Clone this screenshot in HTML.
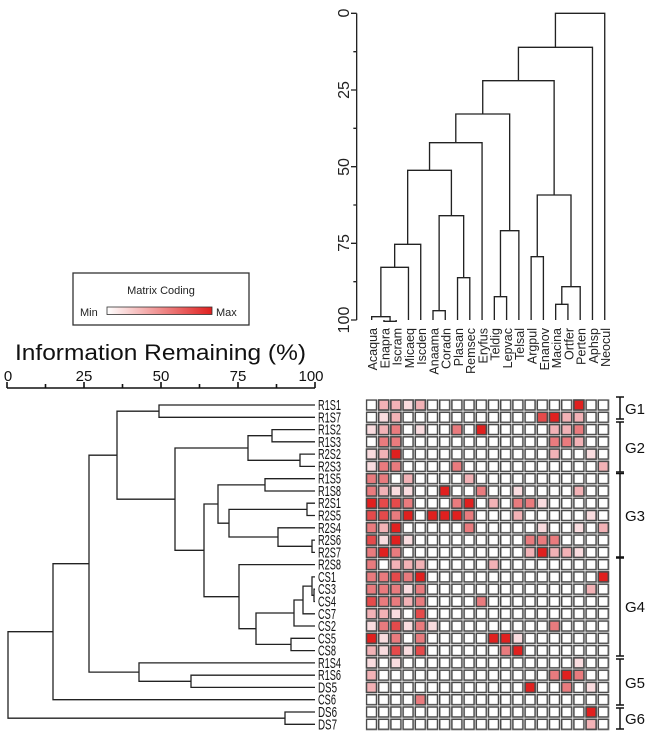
<!DOCTYPE html>
<html><head><meta charset="utf-8"><style>
html,body{margin:0;padding:0;background:#fff;}
svg{display:block;font-family:"Liberation Sans",sans-serif;}
.c{width:10px;height:10px;stroke:#4a4a4a;stroke-width:1.5px;}
.l1{fill:#f9dcdf}.l2{fill:#f2b2b6}.l3{fill:#e97b7e}.l4{fill:#e54a4b}.l5{fill:#e0201f}
.d{fill:none;stroke:#222;stroke-width:1.3;}
</style></head><body>
<svg width="653" height="736" viewBox="0 0 653 736" xmlns="http://www.w3.org/2000/svg">
<defs>
<linearGradient id="gr" x1="0" x2="1" y1="0" y2="0"><stop offset="0" stop-color="#fff"/><stop offset="1" stop-color="#e0201f"/></linearGradient>
<pattern id="cell" patternUnits="userSpaceOnUse" x="365.75" y="399.25" width="12.2" height="12.28">
<rect x="0.75" y="0.75" width="10" height="10" fill="#fff" stroke="#4a4a4a" stroke-width="1.5"/>
</pattern>
</defs>

<g transform="translate(320,0) scale(0.33333)">
<g fill="none" stroke="#222" stroke-width="4">
<path d="M110 40V960 M110 40H93 M110 270H93 M110 500H93 M110 730H93 M110 960H93 M110 155H100 M110 385H100 M110 615H100 M110 845H100"/>
<path d="M191.8 960V964H228.6V960"/>
<path d="M155 960V950H210.2V964"/>
<path d="M182.6 950V802H265.4V960"/>
<path d="M224 802V733H302.2V960"/>
<path d="M339 960V932H375.8V960"/>
<path d="M412.6 960V833H449.4V960"/>
<path d="M357.4 932V647H431V833"/>
<path d="M263 733V511H394.2V647"/>
<path d="M328.6 511V428H486.2V960"/>
<path d="M523 960V890H559.8V960"/>
<path d="M541.4 890V692H596.6V960"/>
<path d="M407.4 428V342H569V692"/>
<path d="M633.4 960V770H670.2V960"/>
<path d="M707 960V913H743.8V960"/>
<path d="M725.4 913V860H780.6V960"/>
<path d="M651.8 770V585H753V860"/>
<path d="M488.2 342V242H702.4V585"/>
<path d="M595.3 242V142H817.4V960"/>
<path d="M706.3 142V40H854.2V960"/>
</g>
</g>
<g font-size="16" fill="#222" text-anchor="middle">
<text transform="translate(349,13) rotate(-90)">0</text>
<text transform="translate(349,90) rotate(-90)">25</text>
<text transform="translate(349,167) rotate(-90)">50</text>
<text transform="translate(349,243) rotate(-90)">75</text>
<text transform="translate(349,320) rotate(-90)">100</text>
</g>
<g font-size="12.5" fill="#222" text-anchor="end">
<text transform="translate(377,328) rotate(-90)">Acaqua</text>
<text transform="translate(389.3,328) rotate(-90)">Enapra</text>
<text transform="translate(401.5,328) rotate(-90)">Iscram</text>
<text transform="translate(413.8,328) rotate(-90)">Micaeq</text>
<text transform="translate(426.1,328) rotate(-90)">Iscden</text>
<text transform="translate(438.4,328) rotate(-90)">Anaama</text>
<text transform="translate(450.6,328) rotate(-90)">Coradn</text>
<text transform="translate(462.9,328) rotate(-90)">Plasan</text>
<text transform="translate(475.2,328) rotate(-90)">Remsec</text>
<text transform="translate(487.4,328) rotate(-90)">Eryfus</text>
<text transform="translate(499.7,328) rotate(-90)">Teldig</text>
<text transform="translate(512,328) rotate(-90)">Lepvac</text>
<text transform="translate(524.2,328) rotate(-90)">Telsal</text>
<text transform="translate(536.5,328) rotate(-90)">Argpul</text>
<text transform="translate(548.8,328) rotate(-90)">Enanov</text>
<text transform="translate(561,328) rotate(-90)">Macina</text>
<text transform="translate(573.3,328) rotate(-90)">Ortfer</text>
<text transform="translate(585.6,328) rotate(-90)">Perten</text>
<text transform="translate(597.9,328) rotate(-90)">Aphsp</text>
<text transform="translate(610.1,328) rotate(-90)">Neocul</text>
</g>

<rect x="73" y="273" width="176" height="52" fill="#fff" stroke="#333" stroke-width="1.3"/>
<text x="161" y="294" font-size="11" text-anchor="middle" fill="#222">Matrix Coding</text>
<text x="80" y="316" font-size="11" fill="#222">Min</text>
<rect x="107" y="307" width="105" height="7.5" fill="url(#gr)" stroke="#333" stroke-width="0.8"/>
<text x="216" y="316" font-size="11" fill="#222">Max</text>

<text x="15" y="360" font-size="22" fill="#111" textLength="291" lengthAdjust="spacingAndGlyphs">Information Remaining (%)</text>
<g font-size="15" fill="#111" text-anchor="middle">
<text x="8" y="381">0</text><text x="84" y="381">25</text><text x="161" y="381">50</text><text x="238" y="381">75</text><text x="311" y="381">100</text>
</g>
<path d="M7 388H315 M7 382V388 M45.5 384V388 M84 382V388 M122.5 384V388 M161 382V388 M199.5 384V388 M238 382V388 M276.5 384V388 M315 382V388" stroke="#111" stroke-width="1.6" fill="none"/>

<g class="d">
<path d="M315 405H159V417.3H315"/>
<path d="M315 429.6H272V441.8H315"/>
<path d="M315 454.1H300V466.4H315"/>
<path d="M272 435.7H248V460.3H300"/>
<path d="M315 478.7H265V491H315"/>
<path d="M315 503.2H307V515.5H315"/>
<path d="M315 540.1H312V552.4H315"/>
<path d="M315 527.8H278V546.3H312"/>
<path d="M307 509.4H229V537H278"/>
<path d="M265 484.9H218V523.2H229"/>
<path d="M315 589.2H314V601.5H315"/>
<path d="M315 576.9H312V595.3H314"/>
<path d="M312 586.1H303V613.8H315"/>
<path d="M303 600H294V626H315"/>
<path d="M315 638.3H291V650.6H315"/>
<path d="M294 613H256V644.4H291"/>
<path d="M315 564.6H239V628.7H256"/>
<path d="M218 504H204V596.7H239"/>
<path d="M248 448H175V550.3H204"/>
<path d="M159 411.2H117V499.2H175"/>
<path d="M315 675.2H191V687.4H315"/>
<path d="M315 662.9H139V681.3H191"/>
<path d="M117 455.2H89V672.1H139"/>
<path d="M89 563.7H53V699.7H315"/>
<path d="M315 712H285V724.3H315"/>
<path d="M53 631.7H8V718.2H285"/>
</g>
<g font-size="15" fill="#111">
<text x="318" y="410" textLength="23" lengthAdjust="spacingAndGlyphs">R1S1</text>
<text x="318" y="422.3" textLength="23" lengthAdjust="spacingAndGlyphs">R1S7</text>
<text x="318" y="434.6" textLength="23" lengthAdjust="spacingAndGlyphs">R1S2</text>
<text x="318" y="446.8" textLength="23" lengthAdjust="spacingAndGlyphs">R1S3</text>
<text x="318" y="459.1" textLength="23" lengthAdjust="spacingAndGlyphs">R2S2</text>
<text x="318" y="471.4" textLength="23" lengthAdjust="spacingAndGlyphs">R2S3</text>
<text x="318" y="483.7" textLength="23" lengthAdjust="spacingAndGlyphs">R1S5</text>
<text x="318" y="496" textLength="23" lengthAdjust="spacingAndGlyphs">R1S8</text>
<text x="318" y="508.2" textLength="23" lengthAdjust="spacingAndGlyphs">R2S1</text>
<text x="318" y="520.5" textLength="23" lengthAdjust="spacingAndGlyphs">R2S5</text>
<text x="318" y="532.8" textLength="23" lengthAdjust="spacingAndGlyphs">R2S4</text>
<text x="318" y="545.1" textLength="23" lengthAdjust="spacingAndGlyphs">R2S6</text>
<text x="318" y="557.4" textLength="23" lengthAdjust="spacingAndGlyphs">R2S7</text>
<text x="318" y="569.6" textLength="23" lengthAdjust="spacingAndGlyphs">R2S8</text>
<text x="318" y="581.9" textLength="18" lengthAdjust="spacingAndGlyphs">CS1</text>
<text x="318" y="594.2" textLength="18" lengthAdjust="spacingAndGlyphs">CS3</text>
<text x="318" y="606.5" textLength="18" lengthAdjust="spacingAndGlyphs">CS4</text>
<text x="318" y="618.8" textLength="18" lengthAdjust="spacingAndGlyphs">CS7</text>
<text x="318" y="631" textLength="18" lengthAdjust="spacingAndGlyphs">CS2</text>
<text x="318" y="643.3" textLength="18" lengthAdjust="spacingAndGlyphs">CS5</text>
<text x="318" y="655.6" textLength="18" lengthAdjust="spacingAndGlyphs">CS8</text>
<text x="318" y="667.9" textLength="23" lengthAdjust="spacingAndGlyphs">R1S4</text>
<text x="318" y="680.2" textLength="23" lengthAdjust="spacingAndGlyphs">R1S6</text>
<text x="318" y="692.4" textLength="19" lengthAdjust="spacingAndGlyphs">DS5</text>
<text x="318" y="704.7" textLength="18" lengthAdjust="spacingAndGlyphs">CS6</text>
<text x="318" y="717" textLength="19" lengthAdjust="spacingAndGlyphs">DS6</text>
<text x="318" y="729.3" textLength="19" lengthAdjust="spacingAndGlyphs">DS7</text>
</g>

<rect x="365.75" y="399.25" width="244" height="331.56" fill="url(#cell)"/>
<g>
<rect class="c l2" x="378.7" y="400"/><rect class="c l2" x="390.9" y="400"/><rect class="c l1" x="403.1" y="400"/><rect class="c l2" x="415.3" y="400"/><rect class="c l5" x="573.9" y="400"/>
<rect class="c l1" x="378.7" y="412.3"/><rect class="c l2" x="390.9" y="412.3"/><rect class="c l4" x="537.3" y="412.3"/><rect class="c l5" x="549.5" y="412.3"/><rect class="c l2" x="561.7" y="412.3"/><rect class="c l2" x="573.9" y="412.3"/>
<rect class="c l1" x="366.5" y="424.6"/><rect class="c l2" x="378.7" y="424.6"/><rect class="c l3" x="390.9" y="424.6"/><rect class="c l1" x="415.3" y="424.6"/><rect class="c l3" x="451.9" y="424.6"/><rect class="c l5" x="476.3" y="424.6"/><rect class="c l2" x="549.5" y="424.6"/><rect class="c l2" x="561.7" y="424.6"/><rect class="c l3" x="573.9" y="424.6"/>
<rect class="c l3" x="378.7" y="436.8"/><rect class="c l3" x="390.9" y="436.8"/><rect class="c l3" x="549.5" y="436.8"/><rect class="c l3" x="561.7" y="436.8"/><rect class="c l2" x="573.9" y="436.8"/>
<rect class="c l1" x="366.5" y="449.1"/><rect class="c l2" x="378.7" y="449.1"/><rect class="c l5" x="390.9" y="449.1"/><rect class="c l2" x="549.5" y="449.1"/><rect class="c l1" x="586.1" y="449.1"/>
<rect class="c l1" x="366.5" y="461.4"/><rect class="c l3" x="378.7" y="461.4"/><rect class="c l3" x="390.9" y="461.4"/><rect class="c l3" x="451.9" y="461.4"/><rect class="c l2" x="598.3" y="461.4"/>
<rect class="c l3" x="366.5" y="473.7"/><rect class="c l3" x="378.7" y="473.7"/><rect class="c l2" x="403.1" y="473.7"/><rect class="c l2" x="464.1" y="473.7"/>
<rect class="c l3" x="366.5" y="486"/><rect class="c l2" x="378.7" y="486"/><rect class="c l1" x="390.9" y="486"/><rect class="c l1" x="403.1" y="486"/><rect class="c l5" x="439.7" y="486"/><rect class="c l3" x="476.3" y="486"/><rect class="c l1" x="512.9" y="486"/><rect class="c l2" x="573.9" y="486"/>
<rect class="c l5" x="366.5" y="498.2"/><rect class="c l4" x="378.7" y="498.2"/><rect class="c l4" x="390.9" y="498.2"/><rect class="c l3" x="403.1" y="498.2"/><rect class="c l3" x="451.9" y="498.2"/><rect class="c l5" x="464.1" y="498.2"/><rect class="c l2" x="488.5" y="498.2"/><rect class="c l3" x="512.9" y="498.2"/><rect class="c l3" x="525.1" y="498.2"/><rect class="c l1" x="537.3" y="498.2"/>
<rect class="c l4" x="366.5" y="510.5"/><rect class="c l4" x="378.7" y="510.5"/><rect class="c l3" x="390.9" y="510.5"/><rect class="c l5" x="403.1" y="510.5"/><rect class="c l5" x="427.5" y="510.5"/><rect class="c l5" x="439.7" y="510.5"/><rect class="c l5" x="451.9" y="510.5"/><rect class="c l3" x="464.1" y="510.5"/><rect class="c l2" x="512.9" y="510.5"/><rect class="c l1" x="586.1" y="510.5"/>
<rect class="c l3" x="366.5" y="522.8"/><rect class="c l2" x="378.7" y="522.8"/><rect class="c l5" x="390.9" y="522.8"/><rect class="c l3" x="464.1" y="522.8"/><rect class="c l1" x="537.3" y="522.8"/><rect class="c l1" x="573.9" y="522.8"/><rect class="c l2" x="598.3" y="522.8"/>
<rect class="c l4" x="366.5" y="535.1"/><rect class="c l1" x="378.7" y="535.1"/><rect class="c l5" x="390.9" y="535.1"/><rect class="c l1" x="403.1" y="535.1"/><rect class="c l3" x="525.1" y="535.1"/><rect class="c l3" x="537.3" y="535.1"/><rect class="c l3" x="549.5" y="535.1"/>
<rect class="c l3" x="366.5" y="547.4"/><rect class="c l5" x="378.7" y="547.4"/><rect class="c l3" x="390.9" y="547.4"/><rect class="c l2" x="525.1" y="547.4"/><rect class="c l5" x="537.3" y="547.4"/><rect class="c l2" x="549.5" y="547.4"/><rect class="c l2" x="561.7" y="547.4"/><rect class="c l1" x="573.9" y="547.4"/>
<rect class="c l3" x="366.5" y="559.6"/><rect class="c l2" x="390.9" y="559.6"/><rect class="c l2" x="403.1" y="559.6"/><rect class="c l2" x="415.3" y="559.6"/><rect class="c l2" x="488.5" y="559.6"/>
<rect class="c l3" x="366.5" y="571.9"/><rect class="c l3" x="378.7" y="571.9"/><rect class="c l4" x="390.9" y="571.9"/><rect class="c l3" x="403.1" y="571.9"/><rect class="c l5" x="415.3" y="571.9"/><rect class="c l5" x="598.3" y="571.9"/>
<rect class="c l3" x="366.5" y="584.2"/><rect class="c l3" x="378.7" y="584.2"/><rect class="c l3" x="390.9" y="584.2"/><rect class="c l1" x="403.1" y="584.2"/><rect class="c l3" x="415.3" y="584.2"/><rect class="c l2" x="586.1" y="584.2"/>
<rect class="c l4" x="366.5" y="596.5"/><rect class="c l3" x="378.7" y="596.5"/><rect class="c l3" x="390.9" y="596.5"/><rect class="c l2" x="403.1" y="596.5"/><rect class="c l3" x="415.3" y="596.5"/><rect class="c l3" x="476.3" y="596.5"/>
<rect class="c l2" x="366.5" y="608.8"/><rect class="c l2" x="378.7" y="608.8"/><rect class="c l1" x="390.9" y="608.8"/><rect class="c l4" x="415.3" y="608.8"/>
<rect class="c l1" x="366.5" y="621"/><rect class="c l3" x="378.7" y="621"/><rect class="c l4" x="390.9" y="621"/><rect class="c l1" x="403.1" y="621"/><rect class="c l3" x="415.3" y="621"/><rect class="c l1" x="427.5" y="621"/><rect class="c l3" x="549.5" y="621"/>
<rect class="c l5" x="366.5" y="633.3"/><rect class="c l1" x="378.7" y="633.3"/><rect class="c l3" x="390.9" y="633.3"/><rect class="c l3" x="415.3" y="633.3"/><rect class="c l5" x="488.5" y="633.3"/><rect class="c l5" x="500.7" y="633.3"/><rect class="c l1" x="512.9" y="633.3"/>
<rect class="c l2" x="366.5" y="645.6"/><rect class="c l1" x="378.7" y="645.6"/><rect class="c l4" x="390.9" y="645.6"/><rect class="c l1" x="403.1" y="645.6"/><rect class="c l4" x="415.3" y="645.6"/><rect class="c l3" x="500.7" y="645.6"/><rect class="c l5" x="512.9" y="645.6"/>
<rect class="c l1" x="366.5" y="657.9"/><rect class="c l1" x="390.9" y="657.9"/><rect class="c l1" x="573.9" y="657.9"/>
<rect class="c l2" x="366.5" y="670.2"/><rect class="c l3" x="549.5" y="670.2"/><rect class="c l5" x="561.7" y="670.2"/><rect class="c l3" x="573.9" y="670.2"/>
<rect class="c l2" x="366.5" y="682.4"/><rect class="c l5" x="525.1" y="682.4"/><rect class="c l3" x="561.7" y="682.4"/><rect class="c l1" x="586.1" y="682.4"/>
<rect class="c l3" x="415.3" y="694.7"/>
<rect class="c l5" x="586.1" y="707"/>
<rect class="c l2" x="586.1" y="719.3"/>
</g>

<g stroke="#111" stroke-width="1.5" fill="none">
<path d="M620 397V419 M616 397H624 M616 419H624"/>
<path d="M620 422V472 M616 422H624 M616 472H624"/>
<path d="M620 473.5V557 M616 473.5H624 M616 557H624"/>
<path d="M620 558V656 M616 558H624 M616 656H624"/>
<path d="M620 659V705 M616 659H624 M616 705H624"/>
<path d="M620 708V729 M616 708H624 M616 729H624"/>
</g>
<g font-size="15" fill="#111">
<text x="625" y="414">G1</text>
<text x="625" y="453">G2</text>
<text x="625" y="521">G3</text>
<text x="625" y="612">G4</text>
<text x="625" y="688">G5</text>
<text x="625" y="724">G6</text>
</g>
</svg>
</body></html>
